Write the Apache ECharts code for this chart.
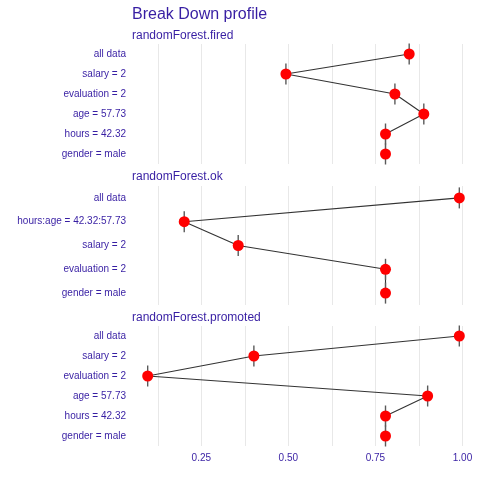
<!DOCTYPE html>
<html>
<head>
<meta charset="utf-8">
<script src="https://cdn.jsdelivr.net/npm/echarts@6/dist/echarts.min.js"></script>
<style>html,body{margin:0;padding:0;background:#fff;}#c{width:480px;height:480px;}</style>
</head>
<body>
<div id="c"></div>
<script>
const firedLabels = ['all data', 'salary = 2', 'evaluation = 2', 'age = 57.73', 'hours = 42.32', 'gender = male'];
const firedValues = [0.847, 0.493, 0.806, 0.889, 0.779, 0.779];
const okLabels = ['all data', 'hours:age = 42.32:57.73', 'salary = 2', 'evaluation = 2', 'gender = male'];
const okValues = [0.991, 0.201, 0.356, 0.779, 0.779];
const promotedLabels = ['all data', 'salary = 2', 'evaluation = 2', 'age = 57.73', 'hours = 42.32', 'gender = male'];
const promotedValues = [0.991, 0.401, 0.096, 0.900, 0.779, 0.779];
const panelNames = ['randomForest.fired', 'randomForest.ok', 'randomForest.promoted'];
const xTickLabels = [0.25, 0.50, 0.75, 1.00];
const xGridValues = [0.125, 0.25, 0.375, 0.5, 0.625, 0.75, 0.875, 1.0];

const TXT = '#371ea3';
const FONT = 'Liberation Sans';
const panels = [
  {labels: firedLabels, values: firedValues, top: 44, height: 120, titleTop: 30},
  {labels: okLabels, values: okValues, top: 186, height: 119, titleTop: 171},
  {labels: promotedLabels, values: promotedValues, top: 326, height: 120, titleTop: 312}
];

const chart = echarts.init(document.getElementById('c'), null, {renderer: 'canvas'});
const grids = [], xAxes = [], yAxes = [], series = [];
const titles = [{text: 'Break Down profile', left: 132, top: 7, padding: 0,
  textStyle: {color: TXT, fontSize: 16, fontWeight: 'normal', fontFamily: FONT}}];

panels.forEach((p, i) => {
  titles.push({text: panelNames[i], left: 132, top: p.titleTop, padding: 0,
    textStyle: {color: TXT, fontSize: 12, fontWeight: 'normal', fontFamily: FONT}});
  grids.push({left: 132, width: 343, top: p.top, height: p.height, containLabel: false});
  xAxes.push({
    type: 'value', gridIndex: i, min: 0.051, max: 1.036,
    axisLine: {show: false},
    axisTick: {show: false, customValues: xGridValues},
    splitLine: {show: true, lineStyle: {color: '#e8e8e8', width: 1}},
    axisLabel: {show: i === 2, customValues: xTickLabels, color: TXT, fontSize: 10, fontFamily: FONT, margin: 7,
      formatter: v => v.toFixed(2)}
  });
  yAxes.push({
    type: 'category', gridIndex: i, data: p.labels, inverse: true,
    axisLine: {show: false}, axisTick: {show: false}, splitLine: {show: false},
    axisLabel: {color: TXT, fontSize: 10, fontFamily: FONT, margin: 6}
  });
  const pts = p.values.map((v, k) => [v, p.labels[k]]);
  series.push({
    type: 'line', xAxisIndex: i, yAxisIndex: i, data: pts, showSymbol: false, symbol: 'none',
    lineStyle: {color: '#333333', width: 1.1}, z: 2, silent: true, animation: false
  });
  series.push({
    type: 'scatter', xAxisIndex: i, yAxisIndex: i, data: pts, symbol: 'rect', symbolSize: [1.4, 21],
    itemStyle: {color: '#5a5a5a', opacity: 1}, z: 3, silent: true, animation: false
  });
  series.push({
    type: 'scatter', xAxisIndex: i, yAxisIndex: i, data: pts, symbol: 'circle', symbolSize: 11,
    itemStyle: {color: '#ff0000', opacity: 1}, z: 4, silent: true, animation: false
  });
});

chart.setOption({
  animation: false,
  backgroundColor: '#ffffff',
  title: titles,
  grid: grids,
  xAxis: xAxes,
  yAxis: yAxes,
  series: series
});
</script>
</body>
</html>
